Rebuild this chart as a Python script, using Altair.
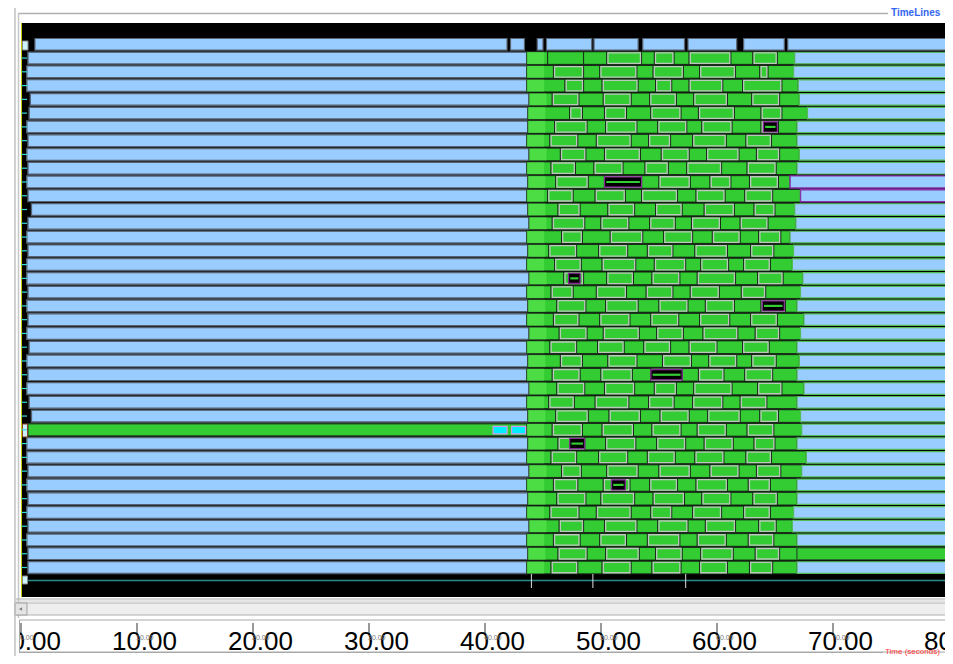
import altair as alt
import pandas as pd

# ---------------- data ----------------
TICKS = [0, 10, 20, 30, 40, 50, 60, 70, 80]
BIG_LABELS = ["0.00", "10.00", "20.00", "30.00", "40.00", "50.00", "60.00", "70.00", "80.00"]
SMALL_LABELS = ["0.00", "10.00", "20.00", "30.00", "40.00", "50.00", "60.00", "70.00", "80.00"]

TOP_STARTS = [1.2, 42.2, 44.5, 45.3, 49.4, 53.6, 57.5, 62.3, 66.1]
TOP_ENDS = [41.9, 43.4, 45.0, 49.2, 53.2, 57.2, 61.7, 65.8, 80.2]

LEFT_START = [0.6, 0.5, 0.5, 0.8, 0.7, 0.5, 0.6, 0.5, 0.6, 0.5, 0.6, 0.9, 0.6, 0.5, 0.6, 0.5, 0.5, 0.6, 0.5,
              0.6, 0.5, 0.7, 0.5, 0.6, 0.5, 0.7, 0.9, 0.6, 0.5, 0.5, 0.6, 0.5, 0.6, 0.5, 0.6, 0.5, 0.6, 0.6]

BREAKS = [
    [43.6, 45.4, 48.5, 50.5, 53.5, 54.6, 56.3, 57.6, 61.2, 63.1, 65.2, 66.7],
    [43.6, 45.9, 48.5, 49.9, 53.1, 54.5, 57.1, 58.5, 61.6, 63.7, 64.4, 66.6],
    [43.6, 46.9, 48.5, 50.1, 53.2, 54.7, 56.1, 57.6, 60.5, 62.2, 65.6, 67.0],
    [43.8, 45.8, 48.1, 50.2, 52.6, 54.2, 56.5, 58.0, 60.9, 63.0, 65.4, 67.1],
    [43.7, 47.3, 48.4, 50.3, 52.2, 54.3, 56.9, 58.4, 61.5, 63.8, 65.6, 67.8],
    [43.7, 46.0, 48.8, 50.4, 53.1, 54.9, 57.4, 58.7, 61.3, 63.8, 65.3, 66.9],
    [43.6, 45.6, 48.0, 49.6, 52.6, 54.1, 56.0, 57.9, 60.8, 62.5, 64.7, 66.9],
    [43.8, 46.5, 48.7, 50.3, 53.4, 55.2, 57.6, 59.1, 61.9, 63.4, 65.4, 67.1],
    [43.6, 45.7, 47.8, 49.4, 51.9, 53.8, 55.8, 57.4, 60.4, 62.6, 65.1, 66.9],
    [43.7, 46.1, 48.9, 50.3, 53.5, 55.0, 57.7, 59.4, 61.2, 62.8, 65.3, 66.3],
    [43.6, 45.4, 47.6, 49.5, 52.1, 53.5, 56.6, 58.2, 60.7, 62.4, 64.8, 67.2],
    [43.7, 46.3, 48.2, 50.6, 52.9, 54.7, 57.0, 58.9, 61.5, 63.2, 65.0, 66.7],
    [43.8, 45.8, 48.6, 50.0, 52.4, 54.2, 56.4, 57.8, 60.3, 62.0, 64.4, 66.8],
    [43.6, 46.6, 48.4, 50.8, 53.6, 55.4, 57.9, 59.6, 62.0, 63.6, 65.5, 66.3],
    [43.7, 45.5, 47.9, 49.8, 52.3, 54.0, 56.2, 58.1, 60.9, 62.9, 64.9, 66.6],
    [43.6, 46.0, 48.3, 50.1, 53.0, 54.6, 57.3, 58.6, 61.0, 62.3, 64.6, 66.5],
    [43.8, 46.8, 48.5, 50.5, 52.8, 54.4, 56.8, 58.3, 61.6, 63.5, 65.7, 67.4],
    [43.6, 45.7, 47.6, 49.6, 52.2, 53.9, 56.2, 57.7, 60.2, 62.1, 64.2, 67.2],
    [43.7, 46.2, 48.7, 50.4, 53.2, 55.0, 57.5, 59.0, 61.5, 63.8, 65.9, 66.9],
    [43.6, 45.9, 48.1, 49.9, 52.5, 54.3, 56.7, 58.5, 61.1, 62.9, 65.2, 67.5],
    [43.8, 46.4, 48.8, 50.2, 53.3, 54.8, 57.1, 58.8, 61.8, 63.3, 65.4, 67.2],
    [43.6, 45.6, 47.9, 49.7, 52.0, 53.7, 56.0, 57.6, 60.0, 62.2, 64.5, 66.9],
    [43.7, 46.5, 48.4, 50.6, 53.1, 55.3, 57.8, 59.3, 61.7, 63.0, 65.1, 67.1],
    [43.6, 45.8, 48.2, 50.0, 52.7, 54.3, 57.0, 58.4, 60.6, 62.4, 64.8, 66.9],
    [43.8, 46.2, 48.6, 50.3, 52.9, 54.6, 56.5, 58.0, 61.3, 63.5, 65.6, 67.5],
    [43.6, 45.5, 47.7, 49.5, 52.4, 54.1, 56.3, 57.9, 60.5, 62.0, 64.3, 66.9],
    [43.7, 46.1, 48.9, 50.7, 53.4, 55.1, 57.6, 59.2, 62.0, 63.7, 65.3, 67.2],
    [43.6, 45.8, 48.4, 50.1, 52.8, 54.4, 56.9, 58.3, 60.8, 62.6, 64.9, 67.3],
    [43.7, 46.3, 48.6, 50.4, 53.0, 54.8, 57.3, 58.9, 61.4, 63.2, 65.0, 66.9],
    [43.6, 45.7, 47.9, 49.8, 52.3, 54.0, 56.4, 58.1, 60.6, 62.5, 64.7, 67.7],
    [43.8, 46.6, 48.3, 50.5, 53.2, 55.0, 57.7, 59.4, 61.9, 63.4, 65.5, 67.3],
    [43.6, 45.9, 48.0, 50.2, 52.5, 54.2, 56.6, 58.2, 60.9, 62.7, 64.6, 66.9],
    [43.7, 46.2, 48.7, 50.0, 52.9, 54.5, 57.2, 58.7, 61.2, 63.1, 65.2, 66.9],
    [43.6, 45.6, 48.1, 49.6, 52.6, 54.3, 56.1, 57.9, 60.4, 62.3, 64.6, 66.6],
    [43.8, 46.4, 48.5, 50.3, 53.1, 54.9, 57.5, 59.0, 61.6, 63.6, 65.1, 66.5],
    [43.6, 45.9, 48.2, 49.9, 52.2, 54.0, 56.8, 58.3, 60.8, 62.7, 64.9, 66.9],
    [43.7, 46.3, 48.8, 50.4, 53.3, 54.7, 57.0, 58.6, 61.4, 63.3, 65.4, 66.9],
    [43.6, 45.7, 48.0, 50.1, 52.6, 54.4, 56.9, 58.5, 60.9, 62.8, 64.8, 66.9],
]
KINDS = ["PPPIPIPIPIP"] + ["PIPIPIPIPIP"] * 37

LEFT_GREEN_ROWS = [28]
RIGHT_GREEN_ROWS = [37]
PURPLE_ROWS = [10, 11]

BLACK_ROWS = [6, 10, 17, 19, 24, 29, 32]
BLACK_STARTS = [64.0, 50.3, 47.2, 63.9, 54.3, 47.3, 50.9]
BLACK_ENDS = [65.2, 53.5, 48.2, 65.8, 57.0, 48.6, 52.1]

CYAN_ROWS = [28, 28]
CYAN_STARTS = [40.7, 42.3]
CYAN_ENDS = [41.9, 43.5]

BOTTOM_EVENTS = [44.0, 49.3, 57.3]

# ---------------- tables ----------------
recs = []
for i in range(len(TOP_STARTS)):
    recs.append(dict(row=0, t0=TOP_STARTS[i], t1=TOP_ENDS[i], kind="top"))
for r in range(1, 39):
    b = BREAKS[r - 1]
    recs.append(dict(row=r, t0=LEFT_START[r - 1], t1=b[0],
                     kind="lg" if r in LEFT_GREEN_ROWS else "lb"))
    for j, k in enumerate(KINDS[r - 1]):
        recs.append(dict(row=r, t0=b[j], t1=b[j + 1], kind="P"))
        if k == "I":
            recs.append(dict(row=r, t0=b[j], t1=b[j + 1], kind="I"))
    recs.append(dict(row=r, t0=b[0], t1=b[1], kind="L"))
    rk = "rg" if r in RIGHT_GREEN_ROWS else ("rp" if r in PURPLE_ROWS else "rb")
    recs.append(dict(row=r, t0=b[-1], t1=80.0, kind=rk))
segs = pd.DataFrame(recs)
blacks = pd.DataFrame(dict(row=BLACK_ROWS, t0=BLACK_STARTS, t1=BLACK_ENDS))
cyans = pd.DataFrame(dict(row=CYAN_ROWS, t0=CYAN_STARTS, t1=CYAN_ENDS))
rows_df = pd.DataFrame(dict(row=list(range(1, 39))))
ticks_df = pd.DataFrame(dict(v=TICKS, big=BIG_LABELS, small=SMALL_LABELS))
events_df = pd.DataFrame(dict(v=BOTTOM_EVENTS))
one = pd.DataFrame(dict(a=[0]))

XS = alt.Scale(domain=[0, 80], range=[13, 941])
YS = alt.Scale(domain=[0, 39], range=[29.4, 566.4])


def seg_layer(data, kinds, fill, stroke, sw, top, bot, inset=0.0, opacity=1.0, right_expr=None):
    base = alt.Chart(data)
    if kinds is not None:
        base = base.transform_filter(alt.FieldOneOfPredicate(field="kind", oneOf=kinds))
    bexpr = right_expr if right_expr is not None else alt.datum.t1 - inset
    return base.transform_calculate(
        a=alt.datum.t0 + inset, b=bexpr,
        ya=alt.datum.row + top, yb=alt.datum.row + bot,
    ).mark_rect(fill=fill, stroke=stroke, strokeWidth=sw, opacity=opacity).encode(
        x=alt.X("a:Q", scale=XS, axis=None), x2="b:Q",
        y=alt.Y("ya:Q", scale=YS, axis=None), y2="yb:Q",
    )


def box(x, x2, y, y2, fill, stroke=None, sw=0):
    kw = dict(fill=fill)
    if stroke:
        kw.update(stroke=stroke, strokeWidth=sw)
    return alt.Chart(one).mark_rect(**kw).encode(
        x=alt.value(x), x2=alt.value(x2), y=alt.value(y), y2=alt.value(y2))


def hline(x, x2, y, color, sw=1):
    return alt.Chart(one).mark_rule(color=color, strokeWidth=sw).encode(
        x=alt.value(x), x2=alt.value(x2), y=alt.value(y))


def vline(x, y, y2, color, sw=1):
    return alt.Chart(one).mark_rule(color=color, strokeWidth=sw).encode(
        x=alt.value(x), y=alt.value(y), y2=alt.value(y2))


LB = "#99ccff"
GR = "#33cc33"
W = 937
H = 648

layers = [
    # frame chrome
    hline(10, 880, 5.5, "#b0b0b0", 1.5),
    vline(10.5, 5, H, "#c8c8c8", 1.5),
    box(13, W, 15, 589, "#000000"),
    vline(13.5, 15, 589, "#c8c800", 1),
    hline(20, W, 572.5, "#2a8a8a", 1.5),
    box(14.5, 19.5, 568, 576, "#ccf4ff", "#888888", 1),
    # top row
    seg_layer(segs, ["top"], LB, "#5a6470", 1.2, 0.08, 0.92),
    box(14.5, 20, 33, 42, "#ccf4ff", "#888888", 1),
    # left light-blue / green bars
    seg_layer(segs, ["lb"], LB, "#566270", 1.4, 0.07, 0.93),
    seg_layer(segs, ["lg"], GR, "#2a5a2a", 1.4, 0.07, 0.93),
    # green bricks
    seg_layer(segs, ["P"], GR, "#1a2a1a", 1.0, 0.04, 0.96),
    seg_layer(segs, ["I"], GR, "#bcc8bc", 1.3, 0.12, 0.88, 0.1),
    seg_layer(segs, ["L"], "#66ee55", "#66ee55", 0.0, 0.06, 0.94, 0.0, 0.5,
              "min(datum.t1, datum.t0 + 1.5)"),
    # right bars
    seg_layer(segs, ["rb"], LB, "#55bb55", 1.2, 0.08, 0.92),
    seg_layer(segs, ["rp"], LB, "#8833aa", 1.4, 0.06, 0.94),
    seg_layer(segs, ["rg"], GR, "#2a6a2a", 1.2, 0.08, 0.92),
    # black nested states
    seg_layer(blacks, None, "#000000", "#8a2a9a", 1.2, 0.13, 0.87),
    seg_layer(blacks, None, GR, "#000000", 0.0, 0.42, 0.58, 0.15),
    # cyan states
    seg_layer(cyans, None, "#00eeff", "#d59af0", 1.2, 0.25, 0.8),
    box(14.5, 19.5, 416, 429, "#ccecff", "#884422", 1),
    # left row markers
    alt.Chart(rows_df).transform_calculate(yc=alt.datum.row + 0.5).mark_rule(
        color="#33dddd", strokeWidth=1.2).encode(
        x=alt.value(13.5), x2=alt.value(19), y=alt.Y("yc:Q", scale=YS, axis=None)),
    # bottom events
    alt.Chart(events_df).mark_rule(color="#dddddd", strokeWidth=1).encode(
        x=alt.X("v:Q", scale=XS, axis=None), y=alt.value(566), y2=alt.value(580)),
    # scroll bar
    hline(8, W, 591, "#aaaaaa", 1),
    hline(8, W, 593, "#cccccc", 1),
    box(7, W + 1, 595, 607, "#eeeeee", "#b0b0b0", 1),
    box(7, 19, 595, 607, "#e4e4e4", "#a0a0a0", 1),
    alt.Chart(one).mark_point(shape="triangle-left", size=14, filled=True, color="#555555").encode(
        x=alt.value(12.5), y=alt.value(601)),
    # ruler
    box(11, W + 1, 612, 644, "#ffffff", "#a8a8a8", 1),
    alt.Chart(ticks_df).mark_rule(color="#333333", strokeWidth=1).encode(
        x=alt.X("v:Q", scale=XS, axis=None), y=alt.value(615), y2=alt.value(626)),
    alt.Chart(ticks_df).mark_text(
        align="right", baseline="alphabetic", fontSize=26, dx=40,
        font="Liberation Sans", color="#000000").encode(
        x=alt.X("v:Q", scale=XS, axis=None), y=alt.value(642), text="big:N"),
    alt.Chart(ticks_df).mark_text(
        align="left", baseline="alphabetic", fontSize=7, dx=-1,
        font="Liberation Sans", color="#777777").encode(
        x=alt.X("v:Q", scale=XS, axis=None), y=alt.value(632), text="small:N"),
    box(0, 11.5, 610, H, "#ffffff"),
    vline(7, 0, H, "#c0c0c0", 1.5),
    vline(11.5, 612, 644, "#a8a8a8", 1),
    hline(11, 875, 644.5, "#a8a8a8", 1),
    alt.Chart(one).mark_text(
        text="Time (seconds)", align="left", baseline="middle", fontSize=8,
        font="Liberation Sans", color="#ff3333").encode(
        x=alt.value(877), y=alt.value(643.5)),
    alt.Chart(one).mark_text(
        text="TimeLines", align="left", baseline="middle", fontSize=10, fontWeight="bold",
        font="Liberation Sans", color="#3366ee").encode(
        x=alt.value(883), y=alt.value(5)),
]

chart = alt.layer(*layers).properties(
    width=W, height=H, padding=0, autosize=alt.AutoSizeParams(type="none"),
    background="#ffffff",
).configure_view(strokeWidth=0)

chart.save("out.html", embed_options={"renderer": "svg", "actions": False})
